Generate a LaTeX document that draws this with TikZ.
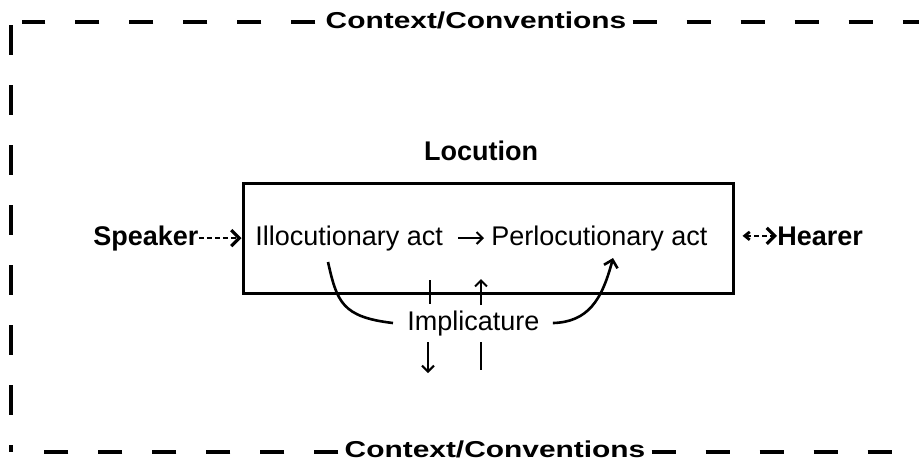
\documentclass[tikz,border=0pt]{standalone}
\usepackage{fontspec}
\setmainfont{Liberation Sans}
\usetikzlibrary{arrows.meta}
\newcommand{\ctxtext}{\scalebox{1.3}[1]{\fontsize{11.5}{13}\selectfont\bfseries Context/Conventions}}
\begin{document}
\begin{tikzpicture}
		[x=0.5pt,y=-0.5pt,
		txt/.style={inner sep=0pt,font=\fontsize{13.5}{16}\selectfont},
		btxt/.style={inner sep=0pt,font=\fontsize{13.5}{16}\selectfont\bfseries},
		ctxline/.style={line width=2pt,dash pattern=on 12pt off 15pt},
		sideline/.style={line width=2pt,dash pattern=on 15pt off 15pt},
		dotarrow/.style={line width=1.3pt,dash pattern=on 2.5pt off 1.5pt,-{Straight Barb[length=4pt,width=8pt,line width=1.6pt]}},
		hearrow/.style={line width=1.3pt,dash pattern=on 2.5pt off 1.5pt,{Straight Barb[length=2.5pt,width=4pt,line width=1.4pt]}-{Straight Barb[length=4pt,width=8pt,line width=1.6pt]}},
		thinarrow/.style={line width=1pt,-{Straight Barb[length=3pt,width=6pt,line width=1pt]}},
		curve/.style={line width=1.3pt}]
		\useasboundingbox (0,0) rectangle (919,463);

		% the dashed context frame
		\node[inner sep=0pt,anchor=base] (ctxtop) at (476,28) {\ctxtext};
		\node[inner sep=0pt,anchor=base] (ctxbot) at (495,457) {\ctxtext};
		\coordinate (tl) at (11,25);
		\coordinate (bl) at (11,452);
		\coordinate (tlh) at (22,22);
		\coordinate (trh) at (919,22);
		\coordinate (blh) at (22,452);
		\coordinate (brh) at (919,452);
		\coordinate (ta) at ([xshift=-5pt]ctxtop.west);
		\coordinate (tb) at ([xshift=3pt]ctxtop.east);
		\coordinate (ba) at ([xshift=-3pt]ctxbot.west);
		\coordinate (bb) at ([xshift=3pt]ctxbot.east);
		\draw[sideline] (tl) -- (bl);
		\draw[ctxline] (ta |- tlh) -- (tlh);
		\draw[ctxline] (tb |- trh) -- (trh);
		\draw[ctxline] (ba |- blh) -- (blh);
		\draw[ctxline] (bb |- brh) -- (brh);

		% the locution box and its acts
		\node[draw,line width=1.5pt,minimum width=245pt,minimum height=55pt,inner sep=0pt] (locbox) at (488,238) {};
		\node[btxt,anchor=base] (loc) at (481,160) {Locution};
		\node[btxt,anchor=base west] (spk) at (93,245) {Speaker};
		\node[txt,anchor=base west] (illoc) at (255,245) {Illocutionary act};
		\node[txt,anchor=base west] (perloc) at (491,245) {Perlocutionary act};
		\node[btxt,anchor=base west] (hear) at (777,245) {Hearer};
		\node[txt,anchor=base west] (impl) at (407,330) {Implicature};

		%speaker and hearer
		\coordinate (hl) at ([xshift=4pt]locbox.east);
		\draw[dotarrow] (spk.east) -- (spk.east -| locbox.west);
		\draw[hearrow] (hl |- hear.west) -- (hear.west);
		\draw[thinarrow] ([xshift=7.5pt]illoc.east) -- ([xshift=-3.5pt]perloc.west);

		%implicature links
		\coordinate (lc) at (328,262);
		\coordinate (rc) at (613,258);
		\draw[curve] (lc) .. controls (337,302) and (342,317) .. ([xshift=-7pt]impl.west);
		\draw[curve,-{Straight Barb[length=3.5pt,width=7pt,line width=1.3pt]}] ([xshift=6.5pt]impl.east) .. controls (588,322) and (602,300) .. (rc);
		\coordinate (ua) at (430,280);
		\coordinate (ub) at (430,304);
		\coordinate (da) at (428,342);
		\coordinate (db) at (428,373);
		\coordinate (va) at (481,305);
		\coordinate (vb) at (481,279);
		\coordinate (wa) at (481,342);
		\coordinate (wb) at (481,370);
		\draw[curve] (ua) -- (ub);
		\draw[thinarrow,line width=1.3pt] (da) -- (db);
		\draw[thinarrow] (va) -- (vb);
		\draw[curve] (wa) -- (wb);
	\end{tikzpicture}
\end{document}
